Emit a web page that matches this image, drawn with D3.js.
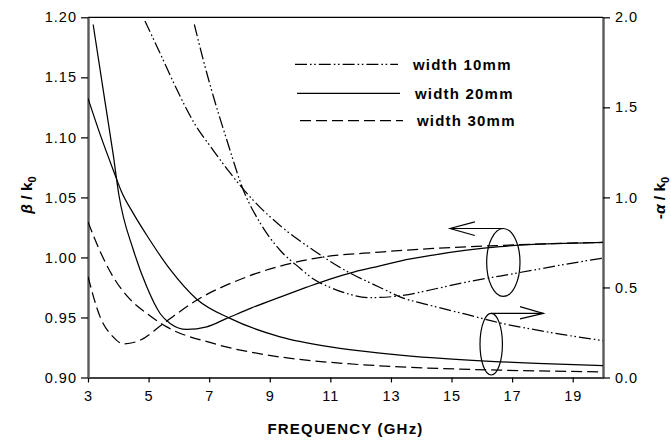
<!DOCTYPE html>
<html>
<head>
<meta charset="utf-8">
<script src="https://d3js.org/d3.v7.min.js"></script>
<style>
  html, body { margin: 0; padding: 0; background: #fff; }
  svg { display: block; font-family: "Liberation Sans", Arial, Helvetica, sans-serif; }
</style>
</head>
<body>
<svg id="chart" width="671" height="440"></svg>
<script>
// ---- tick labels ----
const freqTicks  = [3, 5, 7, 9, 11, 13, 15, 17, 19];
const betaTicks  = [0.90, 0.95, 1.00, 1.05, 1.10, 1.15, 1.20];
const alphaTicks = [0.0, 0.5, 1.0, 1.5, 2.0];

// ---- strip width 10 mm ----
const freq10Beta  = [6.51, 6.81, 7.14, 7.58, 8.13, 8.7, 9.34, 10.0, 10.44, 11.0, 11.54, 12.3, 13.3, 14.4, 15.5, 16.6, 17.7, 18.8, 20];
const beta10      = [1.194, 1.164, 1.134, 1.098, 1.056, 1.028, 1.006, 0.991, 0.982, 0.975, 0.970, 0.9665, 0.968, 0.9735, 0.9795, 0.9845, 0.9895, 0.9945, 0.9995];
const freq10Alpha = [4.88, 5.38, 5.93, 6.48, 7.14, 7.58, 8.13, 8.45, 9.4, 10.44, 11.54, 12.64, 13.3, 14.4, 15.5, 16.6, 17.7, 18.8, 20];
const alpha10     = [1.98, 1.80, 1.60, 1.42, 1.26, 1.16, 1.045, 0.985, 0.835, 0.707, 0.59, 0.50, 0.448, 0.396, 0.35, 0.303, 0.267, 0.235, 0.205];

// ---- strip width 20 mm ----
const freq20Beta  = [3.17, 3.56, 3.83, 4.02, 4.5, 4.94, 5.38, 5.71, 6.26, 6.92, 7.58, 8.4, 9.34, 10.2, 10.99, 11.8, 12.64, 13.3, 14.4, 15.5, 16.6, 17.7, 18.8, 20];
const beta20      = [1.194, 1.13, 1.086, 1.052, 1.006, 0.9755, 0.9533, 0.945, 0.940, 0.9422, 0.9492, 0.958, 0.967, 0.975, 0.982, 0.988, 0.993, 0.997, 1.002, 1.006, 1.009, 1.0108, 1.0118, 1.0125];
const freq20Alpha = [3.0, 3.4, 3.86, 4.11, 4.5, 4.94, 5.71, 6.59, 7.69, 9.34, 11.0, 12.64, 13.3, 14.9, 16.6, 18.3, 20];
const alpha20     = [1.55, 1.35, 1.14, 1.03, 0.91, 0.79, 0.60, 0.435, 0.328, 0.226, 0.17, 0.135, 0.124, 0.103, 0.087, 0.076, 0.066];

// ---- strip width 30 mm ----
const freq30Beta  = [3.0, 3.4, 3.83, 4.17, 4.72, 5.49, 6.59, 8.24, 10.44, 12.64, 14.4, 16.6, 18.3, 20];
const beta30      = [0.984, 0.9505, 0.9338, 0.928, 0.931, 0.945, 0.9644, 0.9838, 0.999, 1.0045, 1.0075, 1.010, 1.0115, 1.0125];
const freq30Alpha = [3.0, 3.4, 3.83, 4.3, 4.94, 5.6, 7.14, 9.34, 11.3, 13.3, 16.6, 20];
const alpha30     = [0.864, 0.70, 0.559, 0.45, 0.356, 0.281, 0.189, 0.114, 0.08, 0.059, 0.041, 0.031];

const legendLabels = ["width 10mm", "width 20mm", "width 30mm"];

// ---- layout ----
const W = 671, H = 440;
const plot = { left: 88, right: 603, top: 17.3, bottom: 377.5 };

const svg = d3.select("#chart");

const x  = d3.scaleLinear().domain([3, 20]).range([plot.left, plot.right]);
const yL = d3.scaleLinear().domain([0.90, 1.20]).range([plot.bottom, plot.top]);
const yR = d3.scaleLinear().domain([0, 2.0]).range([plot.bottom, plot.top]);

const dashStyles = {
  w10: "12,3,1.6,2.6,1.6,3",
  w20: null,
  w30: "11,5"
};

const series = [
  { f: freq10Beta,  v: beta10,  y: yL, dash: dashStyles.w10 },
  { f: freq10Alpha, v: alpha10, y: yR, dash: dashStyles.w10 },
  { f: freq20Beta,  v: beta20,  y: yL, dash: dashStyles.w20 },
  { f: freq20Alpha, v: alpha20, y: yR, dash: dashStyles.w20 },
  { f: freq30Beta,  v: beta30,  y: yL, dash: dashStyles.w30 },
  { f: freq30Alpha, v: alpha30, y: yR, dash: dashStyles.w30 }
];

// ---- top frame line ----
svg.append("line")
  .attr("x1", plot.left).attr("x2", plot.right)
  .attr("y1", plot.top).attr("y2", plot.top)
  .attr("stroke", "#000").attr("stroke-width", 1.3);

// ---- axes ----
const tickFont = g => g.selectAll("text")
  .attr("font-size", "14.5px")
  .attr("letter-spacing", "1px")
  .attr("fill", "#000");

const gx = svg.append("g")
  .attr("transform", `translate(0,${plot.bottom})`)
  .call(d3.axisBottom(x).tickValues(freqTicks).tickFormat(d3.format("d"))
        .tickSize(5).tickPadding(8.5).tickSizeOuter(0));
gx.select(".domain").attr("stroke", "#000").attr("stroke-width", 1.3);
gx.selectAll(".tick line").attr("stroke", "#000").attr("stroke-width", 1.2);
gx.call(tickFont);

const gl = svg.append("g")
  .attr("transform", `translate(${plot.left},0)`)
  .call(d3.axisLeft(yL).tickValues(betaTicks).tickFormat(d3.format(".2f"))
        .tickSize(7).tickPadding(4).tickSizeOuter(0));
gl.selectAll(".tick line").attr("stroke", "#000").attr("stroke-width", 1.2);
gl.select(".domain").attr("stroke", "#5a5a5a").attr("stroke-width", 2.4);
gl.call(tickFont);

const gr = svg.append("g")
  .attr("transform", `translate(${plot.right},0)`)
  .call(d3.axisRight(yR).tickValues(alphaTicks).tickFormat(d3.format(".1f"))
        .tickSize(7).tickPadding(5).tickSizeOuter(0));
gr.selectAll(".tick line").attr("stroke", "#000").attr("stroke-width", 1.2);
gr.select(".domain").attr("stroke", "#5a5a5a").attr("stroke-width", 2.4);
gr.call(tickFont);

// ---- axis titles ----
svg.append("text")
  .attr("x", (plot.left + plot.right) / 2).attr("y", 434)
  .attr("text-anchor", "middle")
  .attr("font-size", "15px").attr("font-weight", "bold")
  .attr("letter-spacing", "1.2px")
  .text("FREQUENCY (GHz)");

const leftTitle = svg.append("text")
  .attr("transform", "translate(32,195) rotate(-90)")
  .attr("text-anchor", "middle")
  .attr("font-size", "15.5px").attr("font-weight", "bold");
leftTitle.append("tspan").attr("font-style", "italic").text("β");
leftTitle.append("tspan").text(" / k");
leftTitle.append("tspan").attr("font-size", "11px").attr("dy", 4).text("0");

const rightTitle = svg.append("text")
  .attr("transform", "translate(665,198) rotate(-90)")
  .attr("text-anchor", "middle")
  .attr("font-size", "15.5px").attr("font-weight", "bold");
rightTitle.append("tspan").text("-");
rightTitle.append("tspan").attr("font-style", "italic").text("α");
rightTitle.append("tspan").text(" / k");
rightTitle.append("tspan").attr("font-size", "11px").attr("dy", 4).text("0");

// ---- curves ----
const clipId = "plot-clip";
svg.append("clipPath").attr("id", clipId)
  .append("rect")
  .attr("x", plot.left).attr("y", plot.top)
  .attr("width", plot.right - plot.left).attr("height", plot.bottom - plot.top);

const curves = svg.append("g").attr("clip-path", `url(#${clipId})`);
series.forEach(s => {
  const pts = s.f.map((f, i) => [f, s.v[i]]);
  const line = d3.line()
    .x(d => x(d[0]))
    .y(d => s.y(d[1]))
    .curve(d3.curveMonotoneX);
  curves.append("path")
    .datum(pts)
    .attr("d", line)
    .attr("fill", "none")
    .attr("stroke", "#000")
    .attr("stroke-width", 1.25)
    .attr("stroke-dasharray", s.dash);
});

// ---- legend ----
const legendRows = [
  { x1: 295, x2: 398, y: 64.3, tx: 413, ty: 69.5, dash: dashStyles.w10 },
  { x1: 297, x2: 400, y: 93.3, tx: 415, ty: 98.5, dash: dashStyles.w20 },
  { x1: 300, x2: 403, y: 120.7, tx: 417, ty: 126, dash: dashStyles.w30 }
];
const legend = svg.append("g");
legendRows.forEach((r, i) => {
  legend.append("line")
    .attr("x1", r.x1).attr("x2", r.x2).attr("y1", r.y).attr("y2", r.y)
    .attr("stroke", "#000").attr("stroke-width", 1.25)
    .attr("stroke-dasharray", r.dash);
  legend.append("text")
    .attr("x", r.tx).attr("y", r.ty)
    .attr("font-size", "15px").attr("font-weight", "bold")
    .attr("letter-spacing", "1.2px")
    .text(legendLabels[i]);
});

// ---- group markers: ellipse + arrow pointing to the relevant axis ----
function ellipseMark(cf, cv, rf, rv, yScale) {
  const cx = x(cf), cy = yScale(cv);
  const rx = x(cf + rf) - cx, ry = cy - yScale(cv + rv);
  svg.append("ellipse")
    .attr("cx", cx).attr("cy", cy).attr("rx", rx).attr("ry", ry)
    .attr("fill", "none").attr("stroke", "#000").attr("stroke-width", 1.2);
  return { cx, top: cy - ry };
}
function arrowMark(x0, tipX, yy, armX, armUp, armDown) {
  const g = svg.append("g").attr("fill", "none").attr("stroke", "#000").attr("stroke-width", 1.2);
  g.append("line").attr("x1", x0).attr("x2", tipX).attr("y1", yy).attr("y2", yy);
  g.append("polyline").attr("points",
    `${armX},${yy - armUp} ${tipX},${yy} ${armX},${yy + armDown}`);
}

// phase-constant group (points to left axis)
const e1 = ellipseMark(16.71, 0.9958, 0.55, 0.0283, yL);
arrowMark(e1.cx, x(14.95), e1.top, x(15.77), 6.7, 7);

// attenuation group (points to right axis)
const e2 = ellipseMark(16.31, 0.185, 0.37, 0.171, yR);
arrowMark(e2.cx, x(18.03), e2.top, x(17.26), 6.7, 5.5);
</script>
</body>
</html>
